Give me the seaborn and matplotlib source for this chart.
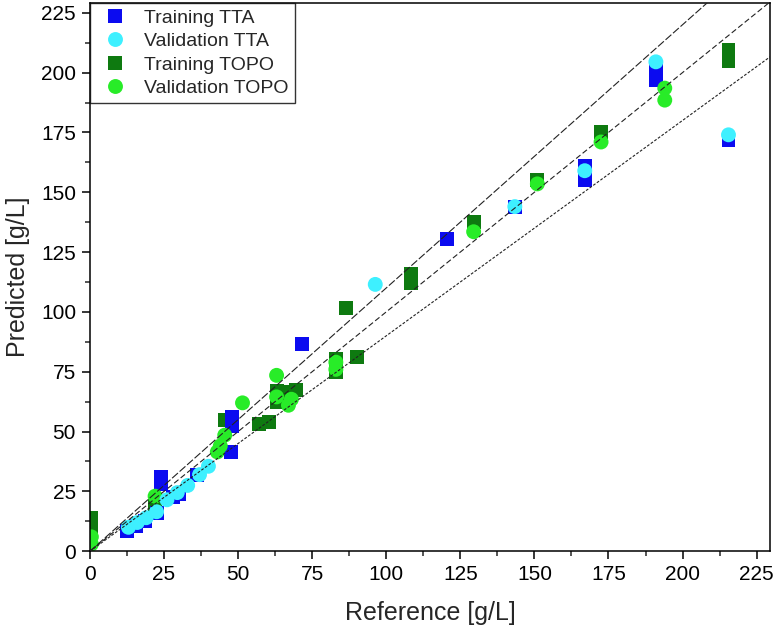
import matplotlib
matplotlib.use("Agg")
import matplotlib.pyplot as plt
from matplotlib.ticker import MultipleLocator
import numpy as np
import pandas as pd
import seaborn as sns

sns.set_style("ticks")
plt.rcParams['font.family'] = ['Liberation Sans', 'DejaVu Sans']

# values
train_tta_x = [12.5, 15.5, 18.5, 22.5, 24, 24, 28, 30, 36, 47.5, 48, 48,
               71.5, 120.5, 143.5, 167, 167, 191, 191, 215.5]
train_tta_y = [8.5, 10.5, 12.5, 16, 28, 31, 22.5, 24, 32, 41.5, 52.5, 56,
               86.5, 130.5, 144, 155, 161, 197, 201, 172]

val_tta_x = [13, 16, 19, 22.5, 26, 29.5, 33, 37, 40, 96.3, 143.4, 167, 191, 215.5]
val_tta_y = [10, 12, 14, 16.5, 21.5, 24.5, 27.5, 32, 35.5, 111.5, 144, 159, 204.5, 174]

train_topo_x = [0.5, 0.5, 22, 45.5, 57, 60.5, 63, 63, 66.5, 69.5, 83, 83, 83,
                90, 86.5, 108.5, 108.5, 129.5, 151, 172.5, 215.5, 215.5]
train_topo_y = [14, 10, 19, 55, 53, 54, 67, 62.5, 66.5, 67.5, 75, 78, 80.5,
                81, 101.5, 112, 116, 137.5, 155, 175, 205, 209.5]

val_topo_x = [0.5, 0.5, 22, 43, 44, 45.5, 51.5, 63, 63, 67, 68, 83, 83,
              129.5, 151, 172.5, 194, 194]
val_topo_y = [6, 3, 23, 41.5, 44, 48.5, 62, 73.5, 64.5, 61, 63.5, 76, 79,
              133.5, 153.5, 171, 193.5, 188.5]

series = ["Training TTA", "Validation TTA", "Training TOPO", "Validation TOPO"]
colors = ["#0b0bf0", "#3ef0ff", "#0e7a10", "#28ec28"]
slopes = [1.1, 1.0, 0.9]

parts = []
for name, xs, ys in [("Training TOPO", train_topo_x, train_topo_y),
                     ("Training TTA", train_tta_x, train_tta_y),
                     ("Validation TOPO", val_topo_x, val_topo_y),
                     ("Validation TTA", val_tta_x, val_tta_y)]:
    parts.append(pd.DataFrame({"Reference": xs, "Predicted": ys, "Set": name}))
data = pd.concat(parts, ignore_index=True)

fig = plt.figure(figsize=(7.75, 6.38), dpi=100)
ax = fig.add_axes([0.116, 0.136, 0.8775, 0.859])

markers = {"Training TTA": "s", "Validation TTA": "o",
           "Training TOPO": "s", "Validation TOPO": "o"}
sizes = {"Training TTA": 100, "Validation TTA": 115,
         "Training TOPO": 100, "Validation TOPO": 115}
sns.scatterplot(data=data, x="Reference", y="Predicted", hue="Set", style="Set",
                size="Set", sizes=sizes, hue_order=series, style_order=series,
                size_order=series, palette=dict(zip(series, colors)),
                markers=markers, linewidth=0, ax=ax, legend=True, zorder=2)

# +10 %, 1:1 and -10 % lines
xl = np.array([0, 240])
dashes = [(7, 2), (5, 2.5), (2.5, 1.5)]
for k, d in zip(slopes, dashes):
    ax.plot(xl, k * xl, color="#222222", lw=0.8, dashes=d, zorder=3)

ax.set_xlim(0, 229.5)
ax.set_ylim(0, 229)
ax.xaxis.set_major_locator(MultipleLocator(25))
ax.yaxis.set_major_locator(MultipleLocator(25))
ax.xaxis.set_minor_locator(MultipleLocator(12.5))
ax.yaxis.set_minor_locator(MultipleLocator(12.5))
ax.tick_params(which="major", direction="out", length=6, width=1.1,
               labelsize=15, pad=4, colors="black")
ax.tick_params(which="minor", direction="out", length=3.5, width=1.1)
for s in ax.spines.values():
    s.set_linewidth(1.1)
    s.set_color("black")

ax.set_xlabel("Reference [g/L]", fontsize=18, labelpad=12)
ax.set_ylabel("Predicted [g/L]", fontsize=18, labelpad=8)

handles, labels = ax.get_legend_handles_labels()
leg = ax.legend(handles, labels, loc="upper left", frameon=True, fancybox=False,
                edgecolor="black", borderaxespad=0, fontsize=14, labelspacing=0.3,
                handletextpad=0.5, borderpad=0.3, markerscale=1.0)
leg.get_frame().set_linewidth(1.0)

plt.savefig("out.png", dpi=100)
